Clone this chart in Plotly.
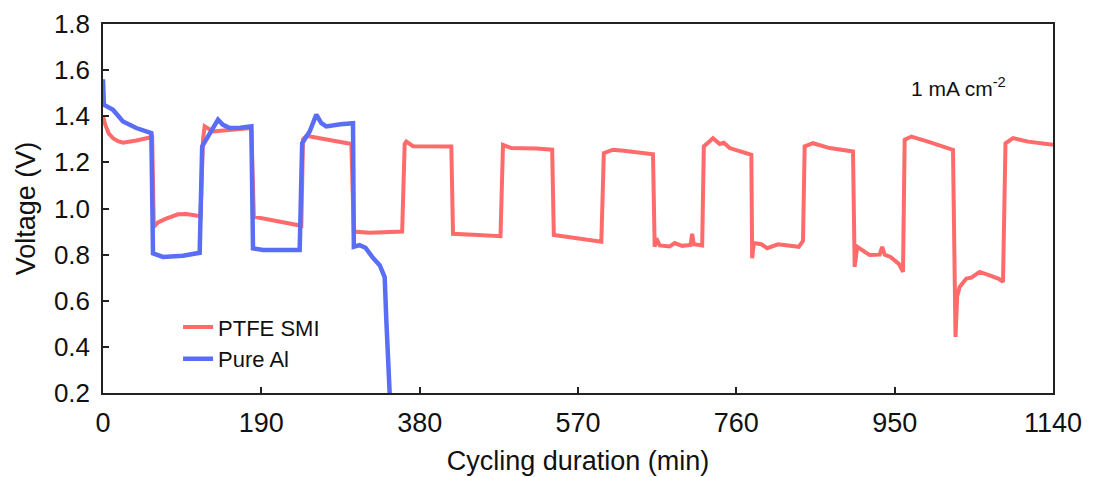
import plotly.graph_objects as go

# PTFE SMI (red) series
ptfe_t = [0, 3, 7, 12, 18, 24, 40, 56, 59,
          61, 66, 75, 90, 100, 117,
          120, 122, 132, 150, 178,
          181, 200, 220, 238,
          240, 244, 252, 275, 298,
          301, 320, 359,
          362, 364, 372, 418,
          420, 450, 477,
          480, 490, 520, 539,
          541, 570, 598,
          601, 612, 625, 640, 660,
          662, 664, 668, 680, 686, 695, 705, 707, 709, 719,
          721, 732, 740, 745, 752, 778,
          779, 781, 790, 797, 810, 835, 840,
          842, 852, 872, 900,
          902, 905, 915, 920, 932, 935, 938, 945, 955, 960,
          962, 970, 990, 1020,
          1023, 1025, 1028, 1036, 1042, 1052, 1064, 1075, 1080,
          1083, 1092, 1110, 1140]
ptfe_v = [1.40, 1.36, 1.325, 1.305, 1.292, 1.285, 1.295, 1.31, 1.31,
          0.92, 0.94, 0.955, 0.975, 0.976, 0.967,
          1.30, 1.356, 1.334, 1.34, 1.349,
          0.964, 0.95, 0.935, 0.925,
          1.30, 1.315, 1.31, 1.295, 1.28,
          0.90, 0.895, 0.90,
          1.28, 1.29, 1.27, 1.269,
          0.89, 0.885, 0.88,
          1.276, 1.262, 1.26, 1.255,
          0.885, 0.87, 0.856,
          1.24, 1.255, 1.25, 1.245, 1.235,
          0.834, 0.87, 0.84, 0.835, 0.85, 0.838, 0.842, 0.89, 0.845, 0.84,
          1.269, 1.305, 1.28, 1.285, 1.262, 1.233,
          0.784, 0.85, 0.845, 0.828, 0.845, 0.834, 0.86,
          1.269, 1.283, 1.262, 1.247,
          0.747, 0.834, 0.81, 0.798, 0.80, 0.834, 0.80, 0.79, 0.76, 0.725,
          1.298, 1.312, 1.29, 1.254,
          0.443, 0.62, 0.66, 0.696, 0.70, 0.725, 0.71, 0.695, 0.682,
          1.283, 1.305, 1.29, 1.276]

# Pure Al (blue) series
al_t = [0, 1, 12, 18, 24, 40, 58,
        60, 72, 96, 116,
        119, 128, 138, 144, 152, 165, 178,
        180, 192, 236,
        239, 248, 256, 262, 268, 285, 300,
        301, 308, 315, 323, 332, 338, 340, 344]
al_v = [1.56, 1.45, 1.428, 1.40, 1.377, 1.349, 1.327,
        0.805, 0.79, 0.795, 0.808,
        1.269, 1.32, 1.385, 1.363, 1.349, 1.35, 1.356,
        0.827, 0.82, 0.82,
        1.283, 1.334, 1.407, 1.37, 1.356, 1.365, 1.37,
        0.834, 0.841, 0.83, 0.79, 0.754, 0.703, 0.515, 0.2]

x_ticks = [0, 190, 380, 570, 760, 950, 1140]
y_ticks = [0.2, 0.4, 0.6, 0.8, 1.0, 1.2, 1.4, 1.6, 1.8]
y_tick_text = ["0.2", "0.4", "0.6", "0.8", "1.0", "1.2", "1.4", "1.6", "1.8"]

FONT = "Liberation Sans, Arial, sans-serif"

fig = go.Figure()
fig.add_trace(go.Scatter(x=ptfe_t, y=ptfe_v, mode="lines", name="PTFE SMI",
                         line=dict(color="#FF6B6B", width=4)))
fig.add_trace(go.Scatter(x=al_t, y=al_v, mode="lines", name="Pure Al",
                         line=dict(color="#5A6EF5", width=4.5)))

axis_common = dict(showline=True, linecolor="#222", linewidth=1.5, mirror=True,
                   ticks="inside", ticklen=6, tickwidth=1.5, tickcolor="#222",
                   showgrid=False, zeroline=False, automargin=False)

fig.update_xaxes(range=[0, 1140], tickvals=x_ticks, ticktext=[str(v) for v in x_ticks],
                 tickfont=dict(family=FONT, size=27, color="#111"),
                 title=dict(text="Cycling duration (min)", font=dict(family=FONT, size=27, color="#111"),
                            standoff=14),
                 ticklabelstandoff=5, **axis_common)
fig.update_yaxes(range=[0.2, 1.8], tickvals=y_ticks, ticktext=y_tick_text,
                 tickfont=dict(family=FONT, size=26, color="#111"),
                 title=dict(text="Voltage (V)", font=dict(family=FONT, size=27, color="#111"),
                            standoff=10),
                 ticklabelstandoff=6, **axis_common)

fig.update_layout(
    width=1094, height=477,
    margin=dict(l=103, r=41, t=24, b=84, autoexpand=False),
    paper_bgcolor="white", plot_bgcolor="white",
    font=dict(family=FONT, color="#111"),
    showlegend=True,
    legend=dict(x=0.079, y=0.235, xanchor="left", yanchor="top",
                bgcolor="rgba(0,0,0,0)", font=dict(family=FONT, size=22, color="#111"),
                tracegroupgap=0),
    annotations=[dict(text="1 mA cm<sup>-2</sup>", x=0.901, y=0.83, xref="paper", yref="paper",
                      xanchor="center", yanchor="middle", showarrow=False,
                      font=dict(family=FONT, size=21, color="#111"))],
)

fig.write_html("out.html", config={"displayModeBar": False},
               post_script="document.body.style.margin='0';document.body.style.overflow='hidden';")
